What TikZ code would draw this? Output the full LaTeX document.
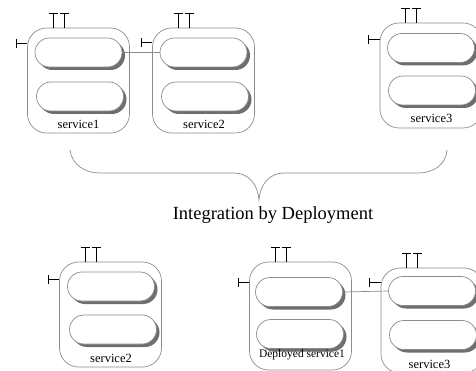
\documentclass[tikz,border=0pt]{standalone}
\usepackage{fontspec}
\setmainfont{Liberation Serif}
\usetikzlibrary{shadows}

\definecolor{rim}{HTML}{8C8C8C}
\definecolor{shade}{HTML}{6E6E6E}

\tikzset{
  svc/.style={draw=rim,line width=0.7pt,rounded corners=19pt,minimum width=102pt,
    minimum height=105pt,inner sep=0pt},
  pill/.style={draw=rim,line width=0.7pt,fill=white,rounded corners=14.5pt,
    minimum width=87pt,minimum height=29pt,inner sep=0pt,
    drop shadow={shadow xshift=3pt,shadow yshift=-3pt,fill=shade,opacity=1}},
  lbl/.style={anchor=base,inner sep=0pt,font=\fontsize{12.5}{14}\selectfont},
  wire/.style={draw=rim,line width=0.7pt}
}

% interface marks of a service box: #1 = box, #2 = drop of the side port
\newcommand\ports[2]{%
  \draw[line width=0.9pt] ([xshift=26pt]#1.north west) -- ++(0,-14) ++(-4.5,0) -- ++(9,0)
        ([xshift=37pt]#1.north west) -- ++(0,-14) ++(-4.5,0) -- ++(9,0);
  \draw[line width=0.9pt] ([yshift=-#2pt]#1.north west) -- ++(-11,0) ++(0,-4.5) -- ++(0,9);
}

\begin{document}
\begin{tikzpicture}[x=1pt,y=-1pt]
  \useasboundingbox (0,0) rectangle (476,371);
  %\draw[very thin,gray,step=10] (0,0) grid (476,371);

  % before deployment
  \node[svc] (s1) at (78.5,80.5) {};
  \node[svc] (s2) at (203.5,80.5) {};
  \node[svc] (s3) at (431,75.5) {};
  \node[pill] (s1a) at (78.5,52.5) {};
  \node[pill] (s1b) at (80,96.5) {};
  \node[pill] (s2a) at (203.5,52.5) {};
  \node[pill] (s2b) at (205,96.5) {};
  \node[pill] (s3a) at (431,48) {};
  \node[pill] (s3b) at (432,90.5) {};
  \node[lbl] (s1l) at (78.5,129) {service1};
  \node[lbl] (s2l) at (204,129) {service2};
  \node[lbl] (s3l) at (431.5,123) {service3};
  \ports{s1}{16}
  \ports{s2}{15}
  \ports{s3}{17}
  \draw[wire] (s1a.east) -- (s2a.west);

  % brace and caption
  \draw[rim,line width=0.7pt] (70,150) .. controls (72,165) and (85,173) .. (100,173) -- (234,173)
    .. controls (249,173) and (258,185) .. (259,200)
    .. controls (260,185) and (269,173) .. (284,173) -- (418,173)
    .. controls (433,173) and (446,165) .. (447,150);
  \node[anchor=base,inner sep=0pt,font=\fontsize{18.5}{22}\selectfont] (cap)
    at (273,220) {Integration by Deployment};

  % after deployment
  \node[svc] (b2) at (110.5,314.5) {};
  \node[svc,minimum height=108pt] (d1) at (300.5,316) {};
  \node[svc] (b3) at (432,320.5) {};
  \node[pill] (b2a) at (111,286.5) {};
  \node[pill] (b2b) at (113,329.5) {};
  \node[pill] (d1a) at (299,292) {};
  \node[pill] (d1b) at (300,334) {};
  \node[pill] (b3a) at (432,291) {};
  \node[pill] (b3b) at (433,335) {};
  \node[lbl] (b2l) at (111,362) {service2};
  \node[lbl,font=\fontsize{11.5}{13}\selectfont] (d1l) at (302,357) {Deployed service1};
  \node[lbl] (b3l) at (429.5,368) {service3};
  \ports{b2}{18}
  \ports{d1}{21}
  \ports{b3}{15}
  \draw[wire] (d1a.east) -- (b3a.west);
\end{tikzpicture}
\end{document}
